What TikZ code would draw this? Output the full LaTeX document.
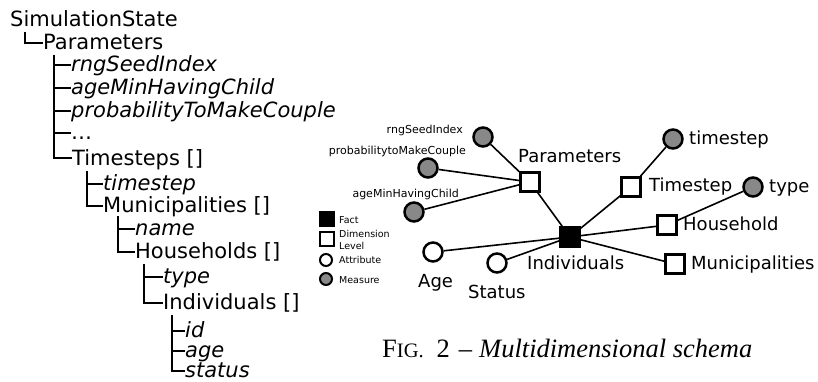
\documentclass[tikz,border=0pt]{standalone}
\usepackage{fontspec}
\setmainfont{DejaVu Sans}
\newfontfamily\captionfont[Ligatures=TeX]{Liberation Serif}
\usetikzlibrary{positioning}
\definecolor{measuregray}{RGB}{136,136,136}
\newcommand\treefont{\fontsize{21pt}{24pt}\selectfont}
\newcommand\labelfont{\fontsize{18pt}{21pt}\selectfont}

\begin{document}
\begin{tikzpicture} [
	x = 1pt, y = -1pt,
	treeitem/.style = {anchor=base west, inner sep=0pt, font=\treefont},
	treeattr/.style = {treeitem, font=\treefont\itshape},
	branch/.style = {line width=2pt},
	fact/.style = {draw, rectangle, fill=black, line width=2.5pt, minimum size=19pt, inner sep=0pt},
	dimlevel/.style = {draw, rectangle, fill=white, line width=2.5pt, minimum size=19pt, inner sep=0pt},
	attribute/.style = {draw, circle, fill=white, line width=2.5pt, minimum size=19pt, inner sep=0pt},
	measure/.style = {attribute, fill=measuregray},
	link/.style = {line width=1.6pt},
	biglabel/.style = {anchor=base west, inner sep=0pt, font=\labelfont},
	smalllabel/.style = {anchor=base east, inner sep=0pt, font=\fontsize{11pt}{12pt}\selectfont},
	keytext/.style = {anchor=base west, inner sep=0pt, font=\fontsize{9.5pt}{12pt}\selectfont}
]
\useasboundingbox (0,0) rectangle (818,382);

% structure of the simulation state
\node [treeitem] (sim) at (10,27) {SimulationState};
\node [treeitem] (par) at (43,50) {Parameters};
\node [treeattr] (rng) at (71,72) {rngSeedIndex};
\node [treeattr] (agemin) at (71,95) {ageMinHavingChild};
\node [treeattr] (prob) at (71,118) {probabilityToMakeCouple};
\node [treeitem] (more) at (71,140) {…};
\node [treeitem] (tss) at (72,165) {Timesteps []};
\node [treeattr] (ts) at (103,190) {timestep};
\node [treeitem] (mun) at (103,212) {Municipalities []};
\node [treeattr] (name) at (135,235) {name};
\node [treeitem] (hh) at (135,258) {Households []};
\node [treeattr] (type) at (163,283) {type};
\node [treeitem] (ind) at (163,309) {Individuals []};
\node [treeattr] (id) at (185,337) {id};
\node [treeattr] (age) at (185,357) {age};
\node [treeattr] (status) at (185,377) {status};

\draw [branch] ([xshift=15pt,yshift=-5pt]sim.base west) |- ([yshift=6.5pt]par.base west);
\foreach \c in {rng,agemin,prob,more,tss}
	\draw [branch] ([xshift=11pt,yshift=-5pt]par.base west) |- ([yshift=6.5pt]\c.base west);
\foreach \c in {ts,mun}
	\draw [branch] ([xshift=15pt,yshift=-6pt]tss.base west) |- ([yshift=6.5pt]\c.base west);
\foreach \c in {name,hh}
	\draw [branch] ([xshift=15pt,yshift=-4pt]mun.base west) |- ([yshift=6.5pt]\c.base west);
\foreach \c in {type,ind}
	\draw [branch] ([xshift=9pt,yshift=-6pt]hh.base west) |- ([yshift=6.5pt]\c.base west);
\foreach \c in {id,age,status}
	\draw [branch] ([xshift=9pt,yshift=-6pt]ind.base west) |- ([yshift=6.5pt]\c.base west);

% multidimensional schema
\node [fact] (individuals) at (570,237) {};
\node [dimlevel] (parameters) at (530,182) {};
\node [dimlevel] (timestep) at (631,187) {};
\node [dimlevel] (household) at (667,225) {};
\node [dimlevel] (municipalities) at (675,264) {};
\node [measure] (mrng) at (483,137) {};
\node [measure] (mprob) at (428,168) {};
\node [measure] (magemin) at (414,212) {};
\node [measure] (mts) at (673,139) {};
\node [measure] (mtype) at (753,187) {};
\node [attribute] (aage) at (433,252) {};
\node [attribute] (astatus) at (497,263) {};

\node [biglabel] (lparameters) at (518,162) {Parameters};
\node [biglabel] (lindividuals) at (527,269) {Individuals};
\node [biglabel] (ltimestep) at (649,191) {Timestep};
\node [biglabel] (lhousehold) at (683,230) {Household};
\node [biglabel] (lmunicipalities) at (691,269) {Municipalities};
\node [biglabel] (lts) at (689,145) {timestep};
\node [biglabel] (ltype) at (769,192) {type};
\node [biglabel] (lage) at (418,287) {Age};
\node [biglabel] (lstatus) at (468,298) {Status};
\node [smalllabel] (lrng) at (463,134) {rngSeedIndex};
\node [smalllabel] (lprob) at (466,155) {probabilitytoMakeCouple};
\node [smalllabel] (lagemin) at (459,197) {ageMinHavingChild};

\foreach \m in {mrng,mprob,magemin}
	\draw [link] (\m) -- (parameters);
\foreach \d in {parameters,timestep,household,municipalities,aage,astatus}
	\draw [link] (\d) -- (individuals);
\draw [link] (timestep) -- (mts);
\draw [link] (household) -- (mtype);

% legend
\node [fact, minimum size=14pt, line width=2pt] (kfact) at (327,219) {};
\node [dimlevel, minimum size=14pt, line width=2pt] (klevel) at (327,239) {};
\node [attribute, minimum size=12pt, line width=2pt] (kattr) at (326,260) {};
\node [measure, minimum size=12pt, line width=2pt] (kmeasure) at (326,279) {};
\node [keytext] (tfact) at (339,223) {Fact};
\node [keytext] (tlevel) at (339,237) {Dimension};
\node [keytext] (tlevel2) at (339,249) {Level};
\node [keytext] (tattr) at (339,263) {Attribute};
\node [keytext] (tmeasure) at (339,283) {Measure};

% caption
\node [anchor=base west, inner sep=0pt, font=\captionfont\fontsize{26.5pt}{28pt}\selectfont] (caption) at (382,357)
	{F{\fontsize{20.5pt}{24pt}\selectfont IG.}\hspace{13pt}2\hspace{9pt}--\hspace{7pt}\textit{Multidimensional schema}};
\end{tikzpicture}
\end{document}
